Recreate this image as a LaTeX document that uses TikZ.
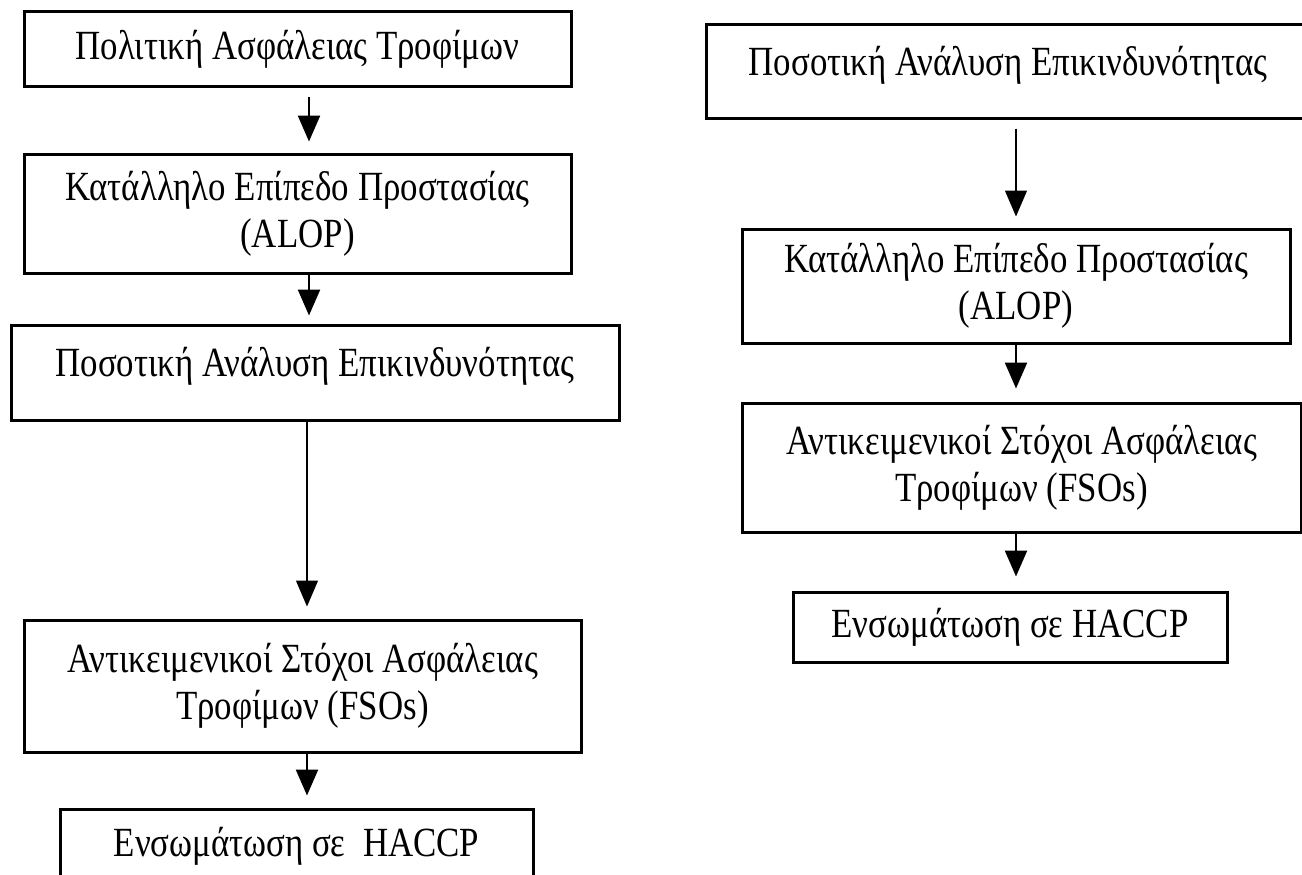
\documentclass[tikz,border=0pt]{standalone}
\usepackage{fontspec}
\setmainfont{Liberation Serif}[FakeStretch=0.84]
\usetikzlibrary{arrows.meta}
\begin{document}
\begin{tikzpicture}[x=1pt,y=-1pt,
  fbox/.style={draw=black,line width=3pt,rectangle,inner sep=0pt,align=center,
    font=\fontsize{41.5}{47}\selectfont},
  thickarr/.style={line width=2.4pt,-{Triangle[length=26pt,width=22pt]}},
  thinarr/.style={line width=1.3pt,-{Triangle[length=26pt,width=22pt]}}]
\useasboundingbox (0,0) rectangle (1302,875);
% left column
\node[fbox,minimum width=547pt,minimum height=75pt] (b1) at (297.5,49.5) {Πολιτική Ασφάλειας Τροφίμων};
\node[fbox,minimum width=547pt,minimum height=119pt] (b2) at (297.5,213.5) {Κατάλληλο Επίπεδο Προστασίας\\(ALOP)};
\node[fbox,minimum width=608pt,minimum height=95pt,text depth=22pt] (b3) at (315,372.5) {Ποσοτική Ανάλυση Επικινδυνότητας};
\node[fbox,minimum width=557pt,minimum height=132pt] (b4) at (302.5,686) {Αντικειμενικοί Στόχοι Ασφάλειας\\Τροφίμων (FSOs)};
\node[fbox,minimum width=473pt,minimum height=74pt] (b5) at (296.5,846) {Ενσωμάτωση σε \ HACCP};
% right column
\node[fbox,minimum width=604pt,minimum height=93pt,text depth=22pt] (r1) at (1008,71.5) {Ποσοτική Ανάλυση Επικινδυνότητας};
\node[fbox,minimum width=548pt,minimum height=114pt] (r2) at (1016,286) {Κατάλληλο Επίπεδο Προστασίας\\(ALOP)};
\node[fbox,minimum width=559pt,minimum height=129pt] (r3) at (1021.5,467.5) {Αντικειμενικοί Στόχοι Ασφάλειας\\Τροφίμων (FSOs)};
\node[fbox,minimum width=434pt,minimum height=70pt] (r4) at (1010,627) {Ενσωμάτωση σε HACCP};
% arrow x positions
\coordinate (xa) at (309,0);
\coordinate (xb) at (307,0);
\coordinate (xr) at (1016,0);
% left arrows
\draw[thickarr,shorten <=9pt,shorten >=11pt] (b1.south -| xa) -- (b2.north -| xa);
\draw[thickarr,shorten >=8pt] (b2.south -| xa) -- (b3.north -| xa);
\draw[thinarr,shorten <=-2pt,shorten >=12pt] (b3.south -| xb) -- (b4.north -| xb);
\draw[thickarr,shorten >=12pt] (b4.south -| xb) -- (b5.north -| xb);
% right arrows
\draw[thinarr,shorten <=9pt,shorten >=11pt] (r1.south -| xr) -- (r2.north -| xr);
\draw[thickarr,shorten >=13pt] (r2.south -| xr) -- (r3.north -| xr);
\draw[thickarr,shorten >=14pt] (r3.south -| xr) -- (r4.north -| xr);
\end{tikzpicture}
\end{document}
